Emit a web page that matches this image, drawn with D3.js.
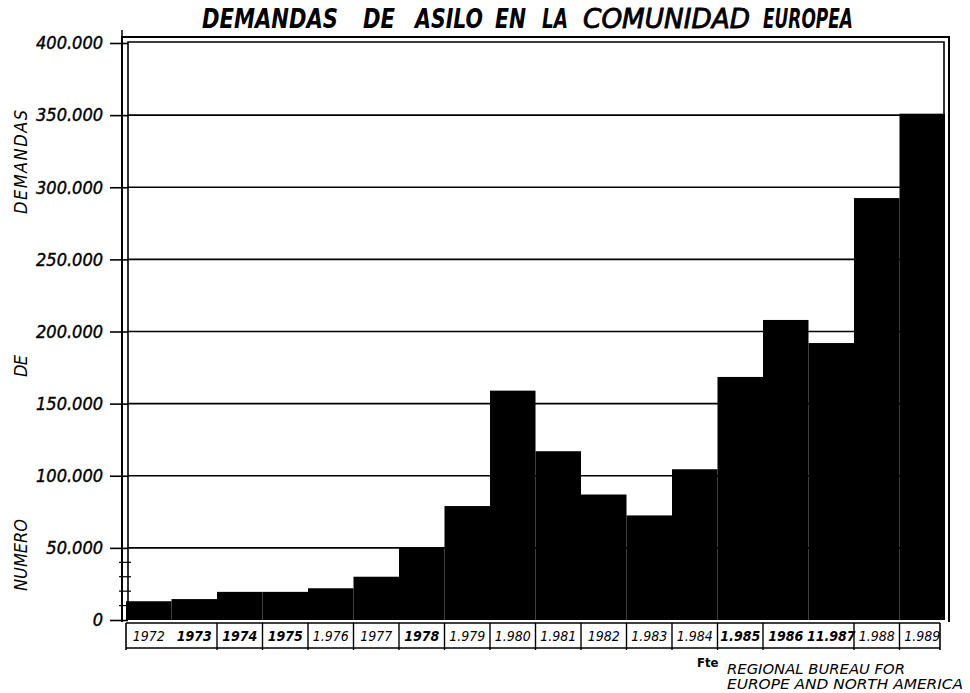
<!DOCTYPE html>
<html>
<head>
<meta charset="utf-8">
<script src="https://cdn.jsdelivr.net/npm/d3@7"></script>
<style>
  body { margin: 0; background: #fff; }
  svg { display: block; }
  text { font-family: "DejaVu Sans Condensed", "DejaVu Sans", sans-serif; font-style: italic; fill: #000; }
</style>
</head>
<body>
<div id="chart"></div>
<script>
// asylum requests per year
const years = ["1972", "1973", "1974", "1975", "1976", "1977", "1978", "1979", "1980",
  "1981", "1982", "1983", "1984", "1985", "1986", "1987", "1988", "1989"];
const requests = [13000, 14500, 19500, 19500, 22000, 30000, 50500, 79000, 159000,
  117000, 87000, 72500, 104500, 168500, 208000, 192000, 292500, 351000];
const yearLabels = ["1972", "1973", "1974", "1975", "1.976", "1977", "1978", "1.979", "1.980",
  "1.981", "1982", "1.983", "1.984", "1.985", "1986", "11.987", "1.988", "1.989"];
const yTicks = [0, 50000, 100000, 150000, 200000, 250000, 300000, 350000, 400000];
const minorTicks = [10000, 20000, 30000, 40000];
const titleWords = ["DEMANDAS", "DE", "ASILO", "EN", "LA", "COMUNIDAD", "EUROPEA"];
// labels that share one box with the previous year
const joinedWithPrev = ["1973", "1987"];
const boldYears = ["1973", "1974", "1975", "1978", "1985", "1986", "1987"];

const data = years.map((y, i) => ({ year: y, value: requests[i], label: yearLabels[i] }));

const width = 970, height = 693;
const svg = d3.select("#chart").append("svg")
  .attr("width", width).attr("height", height);

const x = d3.scaleBand().domain(years).range([126, 945]).padding(0);
const y = d3.scaleLinear().domain([0, 400000]).range([620, 43]);

// title, word by word like the hand lettering
const titleX = [[202, 136], [363, 32], [415, 68], [495, 31], [542, 26], [583, 167], [763, 90]];
svg.append("g").selectAll("text")
  .data(titleWords)
  .join("text")
  .attr("x", (d, i) => titleX[i][0]).attr("y", 28)
  .attr("textLength", (d, i) => titleX[i][1]).attr("lengthAdjust", "spacingAndGlyphs")
  .style("font-size", "27px")
  .style("font-weight", (d, i) => i === 5 ? "normal" : "bold")
  .attr("stroke", (d, i) => i === 5 ? "#000" : "none")
  .attr("stroke-width", 0.8)
  .text(d => d);

// grid
svg.append("g").selectAll("line")
  .data(yTicks.filter(d => d > 0 && d < 400000))
  .join("line")
  .attr("x1", 128).attr("x2", 945)
  .attr("y1", d => y(d)).attr("y2", d => y(d))
  .attr("stroke", "#000").attr("stroke-width", 1.6);

// bars
svg.append("g").selectAll("rect")
  .data(data)
  .join("rect")
  .attr("x", d => x(d.year))
  .attr("y", d => y(d.value))
  .attr("width", x.bandwidth())
  .attr("height", d => y(0) - y(d.value))
  .attr("fill", "#000");

// double frame
const frame = svg.append("g").attr("fill", "none").attr("stroke", "#000");
frame.append("path").attr("stroke-width", 2)
  .attr("d", `M122,622 V37 H949 V622`);
frame.append("path").attr("stroke-width", 1.6)
  .attr("d", `M128,620 V42 H944 V620`);
frame.append("line").attr("stroke-width", 1.5)
  .attr("x1", 122).attr("x2", 122).attr("y1", 30).attr("y2", 36);

// y axis
const yAxis = svg.append("g")
  .attr("transform", "translate(128,0)")
  .call(d3.axisLeft(y)
    .tickValues(yTicks)
    .tickSize(18)
    .tickPadding(7)
    .tickFormat(d => d3.format(",")(d).replace(/,/g, ".")));
yAxis.select(".domain").remove();
yAxis.selectAll(".tick line").attr("stroke-width", 1.6);
yAxis.selectAll(".tick text")
  .style("font-size", "18px")
  .style("font-family", '"DejaVu Sans Condensed", sans-serif')
  .style("font-style", "italic")
  .attr("stroke", "#000").attr("stroke-width", 0.4);

svg.append("g").selectAll("line")
  .data(minorTicks)
  .join("line")
  .attr("x1", 119).attr("x2", 131)
  .attr("y1", d => y(d)).attr("y2", d => y(d))
  .attr("stroke", "#000").attr("stroke-width", 1.2);

// y axis title, stacked words
const yTitle = [
  { word: "DEMANDAS", cy: 162, len: 104 },
  { word: "DE", cy: 366, len: 22 },
  { word: "NUMERO", cy: 555, len: 72 }
];
svg.append("g").selectAll("text")
  .data(yTitle)
  .join("text")
  .attr("transform", d => `translate(27,${d.cy + d.len / 2}) rotate(-90)`)
  .attr("textLength", d => d.len).attr("lengthAdjust", "spacing")
  .style("font-size", "18px")
  .text(d => d.word);

// x label boxes
const xb = svg.append("g").attr("stroke", "#000").attr("fill", "none");
xb.append("path").attr("stroke-width", 1.6)
  .attr("d", `M126,623 H940 M126,648 H940 M126,623 V650 M940,623 V650`);
xb.selectAll("line.div")
  .data(data.filter((d, i) => i > 0 && !joinedWithPrev.includes(d.year)))
  .join("line")
  .attr("class", "div")
  .attr("x1", d => x(d.year)).attr("x2", d => x(d.year))
  .attr("y1", 623).attr("y2", 650)
  .attr("stroke-width", 1.4);

svg.append("g").selectAll("text")
  .data(data)
  .join("text")
  .attr("x", d => x(d.year) + x.bandwidth() / 2)
  .attr("y", 641)
  .attr("text-anchor", "middle")
  .style("font-size", "14px")
  .style("font-weight", d => boldYears.includes(d.year) ? "bold" : "normal")
  .text(d => d.label);

// source
svg.append("text").attr("x", 697).attr("y", 667)
  .style("font-size", "13px").style("font-weight", "bold").style("font-style", "normal")
  .text("Fte");
svg.append("text").attr("x", 727).attr("y", 674)
  .attr("textLength", 178).attr("lengthAdjust", "spacingAndGlyphs")
  .style("font-size", "14px")
  .text("REGIONAL BUREAU  FOR");
svg.append("text").attr("x", 727).attr("y", 689)
  .attr("textLength", 236).attr("lengthAdjust", "spacingAndGlyphs")
  .style("font-size", "14px")
  .text("EUROPE AND NORTH AMERICA");
</script>
</body>
</html>
